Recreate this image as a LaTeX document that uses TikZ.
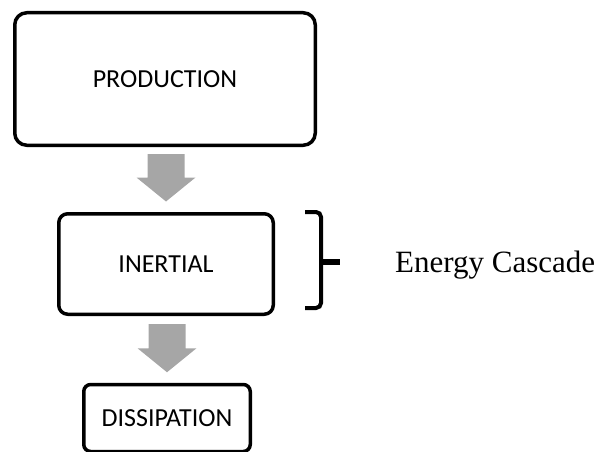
\documentclass[tikz,border=0pt]{standalone}
\usepackage{fontspec}
\setmainfont{Liberation Serif}
\newfontfamily\boxfont{Carlito}
\usetikzlibrary{calc}
\definecolor{arrowgray}{HTML}{A6A6A6}
\tikzset{
  stagebox/.style={draw=black, line width=3.5pt, fill=white, inner sep=0pt,
    font=\boxfont\fontsize{26}{30}\selectfont, align=center},
  bracketline/.style={draw=black, line width=4pt},
}
\newcommand{\blockarrow}[2]{%
  \fill[arrowgray] let \p1=(#1), \p2=(#2) in
    (\x2-18.5pt,\y1) -- (\x2+18.5pt,\y1) -- (\x2+18.5pt,\y2+24pt)
    -- (\x2+29.5pt,\y2+24pt) -- (\x2,\y2) -- (\x2-29.5pt,\y2+24pt)
    -- (\x2-18.5pt,\y2+24pt) -- cycle;}
\begin{document}
\begin{tikzpicture}[x=1pt,y=-1pt]
\useasboundingbox (0,0) rectangle (605,452);
\node[stagebox, rounded corners=12pt, minimum width=300.5pt, minimum height=132.5pt] (prod) at (165,79) {PRODUCTION};
\node[stagebox, rounded corners=9pt, minimum width=214.5pt, minimum height=100.5pt] (inert) at (166,264) {INERTIAL};
\node[stagebox, rounded corners=7pt, minimum width=166.5pt, minimum height=67pt] (diss) at (167,418) {DISSIPATION};
\coordinate (a1s) at ($(prod.south)+(0,7)$);
\coordinate (a1e) at ($(inert.north)+(0,-10.5)$);
\coordinate (a2s) at ($(inert.south)+(0,8)$);
\coordinate (a2e) at ($(diss.north)+(0,-10.5)$);
\blockarrow{a1s}{a1e}
\blockarrow{a2s}{a2e}
\draw[bracketline, rounded corners=5pt] (305,212) -- (321,212) -- (321,308) -- (305,308);
\draw[draw=black, line width=6.5pt] (321,262) -- (339.5,262);
\node[anchor=base west, inner sep=0pt, font=\fontsize{31}{35}\selectfont] (cascade) at (395,272) {Energy Cascade};
\end{tikzpicture}
\end{document}
